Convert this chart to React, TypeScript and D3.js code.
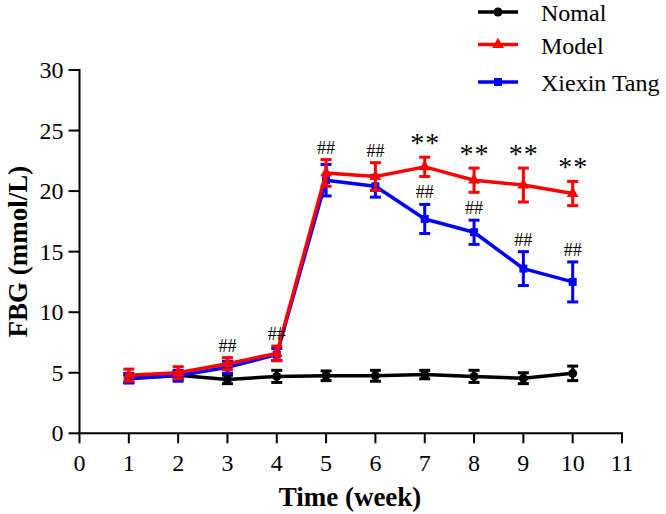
import React from "react";
import * as d3 from "d3";

const weeks = [1, 2, 3, 4, 5, 6, 7, 8, 9, 10];
const normalMean = [4.5, 4.8, 4.45, 4.7, 4.75, 4.75, 4.85, 4.7, 4.55, 4.95];
const normalErr = [0.3, 0.3, 0.35, 0.5, 0.4, 0.45, 0.35, 0.5, 0.45, 0.6];
const modelMean = [4.8, 5.0, 5.75, 6.6, 21.5, 21.2, 22.0, 20.9, 20.5, 19.8];
const modelErr = [0.5, 0.5, 0.5, 0.6, 1.1, 1.15, 0.8, 1.0, 1.4, 1.0];
const xiexinMean = [4.55, 4.75, 5.45, 6.5, 20.9, 20.4, 17.7, 16.6, 13.6, 12.5];
const xiexinErr = [0.4, 0.45, 0.5, 0.5, 1.3, 0.9, 1.2, 1.0, 1.4, 1.65];

const xTicks = [0, 1, 2, 3, 4, 5, 6, 7, 8, 9, 10, 11];
const yTicks = [0, 5, 10, 15, 20, 25, 30];

const modelMarks = ["", "", "##", "##", "##", "##", "**", "**", "**", "**"];
const xiexinMarks = ["", "", "", "", "", "", "##", "##", "##", "##"];

const seriesNames = ["Nomal", "Model", "Xiexin Tang"];
const seriesColors = ["#000000", "#ff0000", "#0000ff"];
const seriesShapes = ["circle", "triangle", "square"];

const W = 666;
const H = 514;

export default function App() {
  const x = d3.scaleLinear().domain([0, 11]).range([79.5, 622]);
  const y = d3.scaleLinear().domain([0, 30]).range([433.3, 70]);
  const font = "'Times New Roman', 'Liberation Serif', 'DejaVu Serif', serif";

  const series = [
    { mean: normalMean, err: normalErr },
    { mean: modelMean, err: modelErr },
    { mean: xiexinMean, err: xiexinErr },
  ];
  const drawOrder = [0, 2, 1];

  const line = d3
    .line<number>()
    .x((_, i) => x(weeks[i]))
    .y((d) => y(d));

  const marker = (shape: string, cx: number, cy: number, color: string, key: string) => {
    if (shape === "circle") return <circle key={key} cx={cx} cy={cy} r={4.5} fill={color} />;
    if (shape === "triangle") {
      const s = d3.symbol().type(d3.symbolTriangle).size(60)();
      return <path key={key} d={s || ""} transform={`translate(${cx},${cy})`} fill={color} />;
    }
    return <rect key={key} x={cx - 4} y={cy - 4} width={8} height={8} fill={color} />;
  };

  const markText = (t: string, cx: number, top: number, key: string) =>
    t === "**" ? (
      <text
        key={key}
        x={cx + 0.5}
        y={top - 5}
        textAnchor="middle"
        fontFamily={font}
        fontSize={28}
        letterSpacing={1}
        fill="#000"
      >
        **
      </text>
    ) : (
      <text key={key} x={cx} y={top - 6} textAnchor="middle" fontFamily={font} fontSize={18} fill="#000">
        {t}
      </text>
    );

  return (
    <div style={{ position: "absolute", left: 0, top: 0 }}>
      <svg width={W} height={H} style={{ display: "block", background: "#fff" }}>
        <line x1={x(0)} x2={x(11) + 1} y1={y(0)} y2={y(0)} stroke="#000" strokeWidth={2} />
        <line x1={x(0)} x2={x(0)} y1={y(0) + 1} y2={y(30) - 1} stroke="#000" strokeWidth={2} />
        {yTicks.map((t) => (
          <g key={"yt" + t}>
            <line x1={x(0) - 11} x2={x(0)} y1={y(t)} y2={y(t)} stroke="#000" strokeWidth={2} />
            <text x={x(0) - 16} y={y(t) + 8} textAnchor="end" fontFamily={font} fontSize={24} fill="#000">
              {t}
            </text>
          </g>
        ))}
        {xTicks.map((t) => (
          <g key={"xt" + t}>
            <line x1={x(t)} x2={x(t)} y1={y(0)} y2={y(0) + 10} stroke="#000" strokeWidth={2} />
            <text x={x(t)} y={471} textAnchor="middle" fontFamily={font} fontSize={24} fill="#000">
              {t}
            </text>
          </g>
        ))}
        <text x={350} y={506} textAnchor="middle" fontFamily={font} fontSize={27} fontWeight="bold" fill="#000">
          Time (week)
        </text>
        <text
          transform={`translate(27,${(y(0) + y(30)) / 2}) rotate(-90)`}
          textAnchor="middle"
          fontFamily={font}
          fontSize={27}
          fontWeight="bold"
          fill="#000"
        >
          FBG (mmol/L)
        </text>

        {drawOrder.map((si) => {
          const s = series[si];
          const c = seriesColors[si];
          return (
            <g key={"s" + si}>
              <path d={line(s.mean) || ""} fill="none" stroke={c} strokeWidth={3.5} strokeLinejoin="round" />
              {s.mean.map((m, i) => {
                const cx = x(weeks[i]);
                const top = y(m + s.err[i]);
                const bot = y(m - s.err[i]);
                return (
                  <g key={"e" + i}>
                    <line x1={cx} x2={cx} y1={top} y2={bot} stroke={c} strokeWidth={3} />
                    <line x1={cx - 5.5} x2={cx + 5.5} y1={top} y2={top} stroke={c} strokeWidth={3} />
                    <line x1={cx - 5.5} x2={cx + 5.5} y1={bot} y2={bot} stroke={c} strokeWidth={3} />
                    {marker(seriesShapes[si], cx, y(m), c, "m" + i)}
                  </g>
                );
              })}
            </g>
          );
        })}

        {modelMarks.map((t, i) =>
          t
            ? markText(
                t,
                x(weeks[i]),
                y(Math.max(modelMean[i] + modelErr[i], xiexinMean[i] + xiexinErr[i])),
                "mm" + i
              )
            : null
        )}
        {xiexinMarks.map((t, i) =>
          t ? markText(t, x(weeks[i]), y(xiexinMean[i] + xiexinErr[i]), "xm" + i) : null
        )}

        {seriesNames.map((n, i) => {
          const ly = [12, 44.5, 82][i];
          return (
            <g key={"lg" + i}>
              <line x1={478} x2={518} y1={ly} y2={ly} stroke={seriesColors[i]} strokeWidth={3.5} />
              {marker(seriesShapes[i], 498, ly, seriesColors[i], "lm" + i)}
              <text x={541} y={ly + 9} fontFamily={font} fontSize={24} fill="#000">
                {n}
              </text>
            </g>
          );
        })}
      </svg>
    </div>
  );
}
